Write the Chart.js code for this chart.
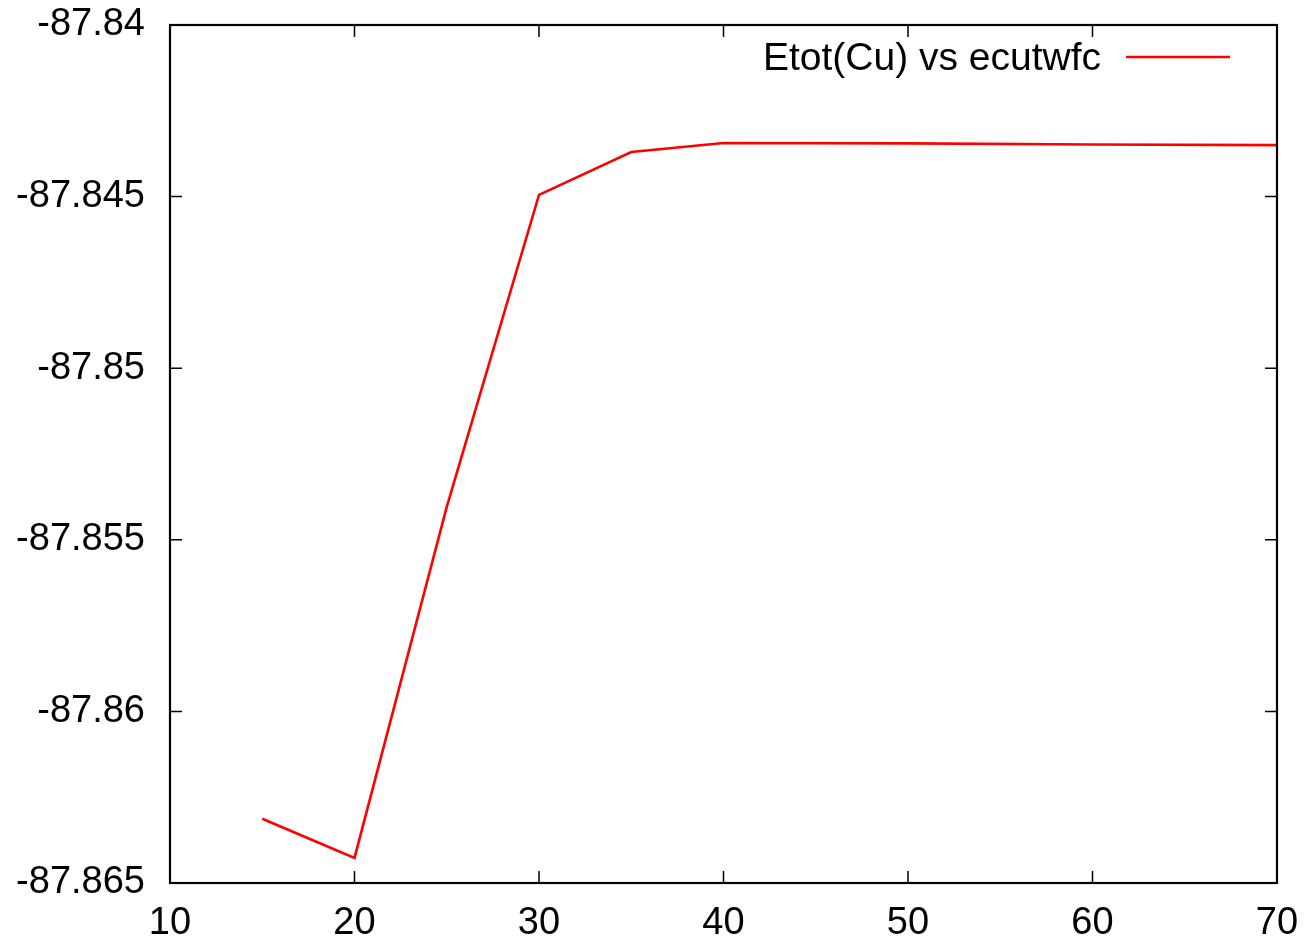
<!DOCTYPE html>
<html>
<head>
<meta charset="utf-8">
<script src="https://cdn.jsdelivr.net/npm/chart.js@4"></script>
<style>
  html, body { margin: 0; padding: 0; background: #fff; }
  #box { width: 1312px; height: 944px; }
</style>
</head>
<body>
<div id="box"><canvas id="grafico"></canvas></div>
<script>
const ecutwfc = [15, 20, 25, 30, 35, 40, 50, 60, 70];
const etot = [-87.86313, -87.86427, -87.85404, -87.84495, -87.84370, -87.84344, -87.84345, -87.84348, -87.84350];
const serie = "Etot(Cu) vs ecutwfc";

const fonte = "Liberation Sans, Arial, sans-serif";

// moldura e ticks para dentro, como no gnuplot
const moldura = {
  id: "moldura",
  afterDraw(chart) {
    const ctx = chart.ctx;
    const a = chart.chartArea;
    const x = chart.scales.x;
    const y = chart.scales.y;
    const t = 12;
    ctx.save();
    ctx.strokeStyle = "#000";
    ctx.lineWidth = 1.5;
    ctx.beginPath();
    x.ticks.forEach(k => {
      const px = x.getPixelForValue(k.value);
      ctx.moveTo(px, a.bottom); ctx.lineTo(px, a.bottom - t);
      ctx.moveTo(px, a.top); ctx.lineTo(px, a.top + t);
    });
    y.ticks.forEach(k => {
      const py = y.getPixelForValue(k.value);
      ctx.moveTo(a.left, py); ctx.lineTo(a.left + t, py);
      ctx.moveTo(a.right, py); ctx.lineTo(a.right - t, py);
    });
    ctx.stroke();
    ctx.lineWidth = 2.2;
    ctx.strokeRect(a.left, a.top, a.right - a.left, a.bottom - a.top);

    // legenda
    const ds = chart.data.datasets[0];
    ctx.font = "39px " + fonte;
    ctx.fillStyle = "#000";
    ctx.textAlign = "right";
    ctx.textBaseline = "alphabetic";
    ctx.fillText(ds.label, 1101, 70);
    ctx.strokeStyle = ds.borderColor;
    ctx.lineWidth = ds.borderWidth;
    ctx.beginPath();
    ctx.moveTo(1126, 57);
    ctx.lineTo(1230, 57);
    ctx.stroke();
    ctx.restore();
  }
};

new Chart(document.getElementById("grafico"), {
  type: "scatter",
  data: {
    datasets: [
      {
        label: serie,
        data: ecutwfc.map((v, i) => ({ x: v, y: etot[i] })),
        borderColor: "#ff0000",
        borderWidth: 2.6,
        showLine: true,
        pointRadius: 0,
        tension: 0,
      },
    ],
  },
  options: {
    responsive: true,
    maintainAspectRatio: false,
    animation: false,
    layout: { padding: { top: 25, right: 35, left: 0, bottom: 0 } },
    plugins: { legend: { display: false }, tooltip: { enabled: false } },
    scales: {
      x: {
        type: "linear",
        min: 10,
        max: 70,
        grid: { display: false, drawTicks: false },
        border: { display: false },
        ticks: { stepSize: 10, color: "#000", font: { size: 38, family: fonte }, padding: 18, maxRotation: 0 },
        afterFit(s) { s.height = 61; s.paddingLeft = 0; s.paddingRight = 0; },
      },
      y: {
        min: -87.865,
        max: -87.84,
        grid: { display: false, drawTicks: false },
        border: { display: false },
        ticks: {
          stepSize: 0.005,
          color: "#000",
          font: { size: 38, family: fonte },
          padding: 25,
          callback: v => String(Number(v.toFixed(3))),
        },
        afterFit(s) { s.width = 170; s.paddingTop = 0; s.paddingBottom = 0; },
      },
    },
  },
  plugins: [moldura],
});
</script>
</body>
</html>
